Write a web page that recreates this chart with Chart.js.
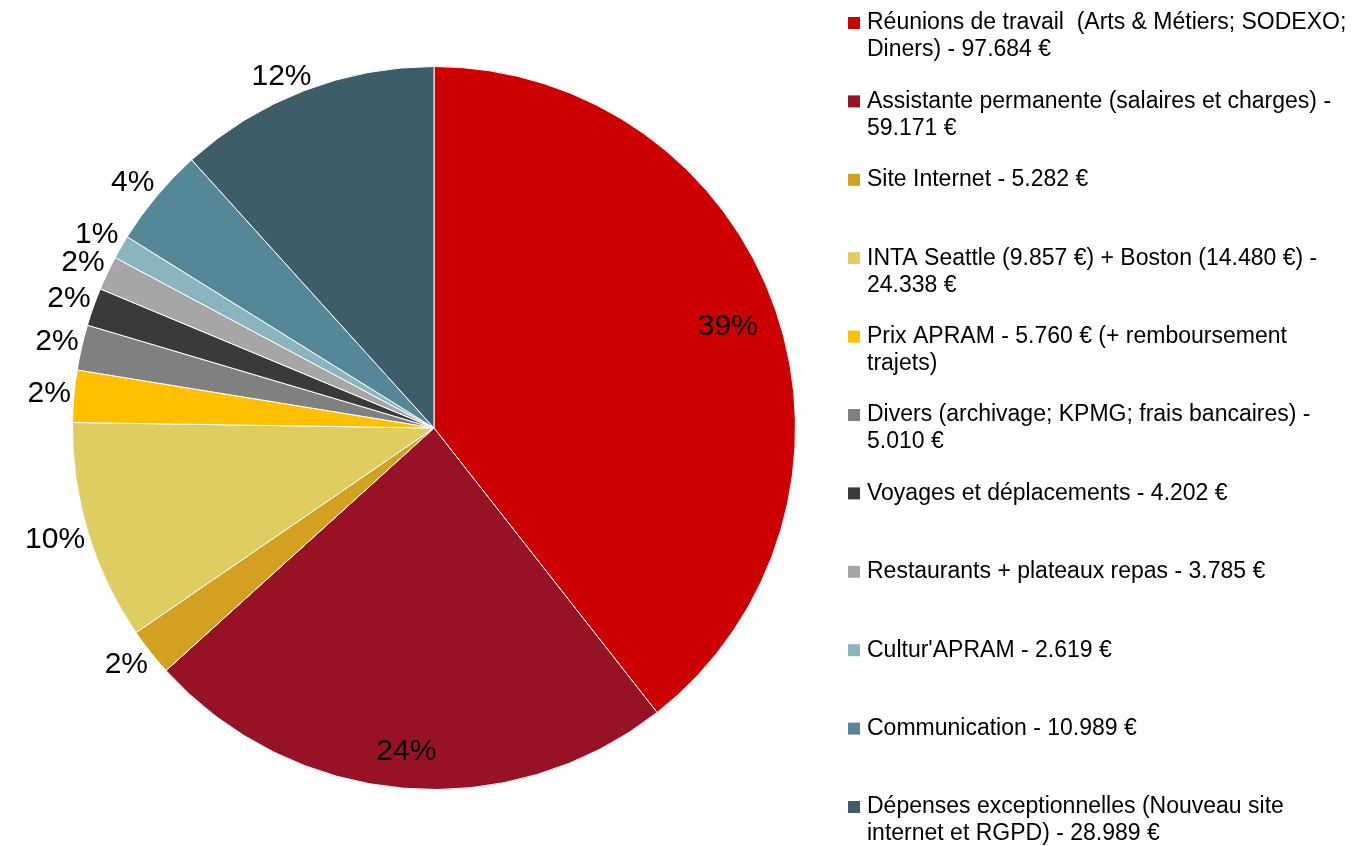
<!DOCTYPE html>
<html>
<head>
<meta charset="utf-8">
<script src="https://cdn.jsdelivr.net/npm/chart.js@4/dist/chart.umd.min.js"></script>
<style>
  html, body { margin: 0; background: #fff; }
  #cadre { width: 1364px; height: 846px; position: relative; }
</style>
</head>
<body>
<div id="cadre"><canvas id="graphique"></canvas></div>
<script>
// Postes de dépenses (libellés avec retours à la ligne comme la légende d'origine)
const categories = [
  'Réunions de travail  (Arts & Métiers; SODEXO;\nDiners) - 97.684 €',
  'Assistante permanente (salaires et charges) -\n59.171 €',
  'Site Internet - 5.282 €',
  'INTA Seattle (9.857 €) + Boston (14.480 €) -\n24.338 €',
  'Prix APRAM - 5.760 € (+ remboursement\ntrajets)',
  'Divers (archivage; KPMG; frais bancaires) -\n5.010 €',
  'Voyages et déplacements - 4.202 €',
  'Restaurants + plateaux repas - 3.785 €',
  "Cultur'APRAM - 2.619 €",
  'Communication - 10.989 €',
  'Dépenses exceptionnelles (Nouveau site\ninternet et RGPD) - 28.989 €'
];
const montants = [97684, 59171, 5282, 24338, 5760, 5010, 4202, 3785, 2619, 10989, 28989];
const couleurs = [
  '#CC0000', '#981226', '#D4A020', '#E0CD62', '#FFC000', '#808080',
  '#3A3A3A', '#A6A6A6', '#8AB4C0', '#558896', '#3D5D68'
];

const POLICE = '"Liberation Sans", Arial, sans-serif';
const total = montants.reduce((a, b) => a + b, 0);

function borne(v) { return Math.max(-1, Math.min(1, v)); }

// ─── Étiquettes de pourcentage (dans la part si elle est grande, sinon dehors) ───
const etiquettesPourcent = {
  id: 'etiquettesPourcent',
  afterDatasetsDraw(chart) {
    const ctx = chart.ctx;
    const meta = chart.getDatasetMeta(0);
    ctx.save();
    ctx.font = '30px ' + POLICE;
    ctx.fillStyle = '#000';
    ctx.textAlign = 'center';
    ctx.textBaseline = 'middle';
    meta.data.forEach((arc, i) => {
      const p = arc.getProps(['x', 'y', 'startAngle', 'endAngle', 'outerRadius'], true);
      const part = montants[i] / total;
      const texte = Math.round(part * 100) + '%';
      const a = (p.startAngle + p.endAngle) / 2;
      const cx = Math.cos(a), sy = Math.sin(a);
      let x, y;
      if (part > 0.2) {
        const d = p.outerRadius * (part > 0.3 ? 0.86 : 0.9);
        x = p.x + cx * d;
        y = p.y + sy * d;
      } else {
        // le coin le plus proche de l'étiquette touche presque le bord de la part
        const w = ctx.measureText(texte).width;
        const h = 22;
        const d = p.outerRadius + 3;
        x = p.x + cx * d + borne(cx * 2) * w / 2;
        y = p.y + sy * d + borne(sy * 2) * h / 2;
      }
      ctx.fillText(texte, x, y);
    });
    ctx.restore();
  }
};

// ─── Légende à droite ───────────────────────────────────────────────────────────
const legendeDroite = {
  id: 'legendeDroite',
  afterDraw(chart) {
    const ctx = chart.ctx;
    ctx.save();
    ctx.font = '23px ' + POLICE;
    ctx.textBaseline = 'middle';
    ctx.textAlign = 'left';
    categories.forEach((lib, i) => {
      const y0 = 23 + i * 78.4;
      ctx.fillStyle = couleurs[i];
      ctx.fillRect(848, y0 - 6, 12, 12);
      ctx.fillStyle = '#000';
      lib.split('\n').forEach((ligne, k) => {
        ctx.fillText(ligne, 867, y0 + k * 27);
      });
    });
    ctx.restore();
  }
};

new Chart(document.getElementById('graphique'), {
  type: 'pie',
  data: {
    labels: categories,
    datasets: [{
      data: montants,
      backgroundColor: couleurs,
      borderColor: '#fff',
      borderWidth: 1
    }]
  },
  options: {
    responsive: true,
    maintainAspectRatio: false,
    animation: false,
    layout: { padding: { left: 72, right: 568, top: 66, bottom: 56 } },
    plugins: {
      legend: { display: false },
      tooltip: { enabled: false }
    }
  },
  plugins: [etiquettesPourcent, legendeDroite]
});
</script>
</body>
</html>
